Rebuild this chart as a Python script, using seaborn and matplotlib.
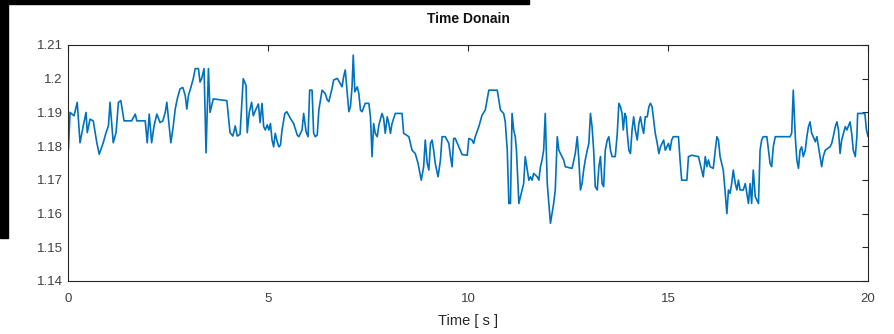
import numpy as np
import pandas as pd
import matplotlib
matplotlib.use("Agg")
import matplotlib.pyplot as plt
from matplotlib.patches import Rectangle
import seaborn as sns

# values (time in s, signal)
time_s = [
    0.01, 0.05, 0.15, 0.23, 0.30, 0.38, 0.45, 0.48, 0.55, 0.63, 0.72, 0.78, 0.88, 0.95,
    1.01, 1.05, 1.13, 1.20, 1.26, 1.32, 1.40, 1.59, 1.68, 1.72, 1.93, 1.98, 2.03, 2.09,
    2.15, 2.22, 2.30, 2.37, 2.43, 2.47, 2.57, 2.62, 2.68, 2.73, 2.80, 2.87, 2.93, 2.97,
    3.01, 3.07, 3.13, 3.18, 3.26, 3.30, 3.34, 3.40, 3.45, 3.51, 3.55, 3.63, 3.97, 4.05,
    4.12, 4.18, 4.23, 4.30, 4.38, 4.45, 4.48, 4.53, 4.59, 4.63, 4.70, 4.76, 4.80,
    4.85, 4.89, 4.93, 4.98, 5.02, 5.06, 5.10, 5.14, 5.18, 5.23, 5.27, 5.31, 5.35, 5.42,
    5.47, 5.56, 5.64, 5.73, 5.77, 5.85, 5.89, 5.95, 6.00, 6.04, 6.10, 6.14, 6.18, 6.23,
    6.27, 6.35, 6.43, 6.48, 6.52, 6.60, 6.64, 6.73, 6.78, 6.85, 6.89, 6.93, 6.98, 7.02,
    7.06, 7.10, 7.13, 7.17, 7.23, 7.27, 7.31, 7.35, 7.43, 7.52, 7.56, 7.60, 7.64, 7.68,
    7.73, 7.77, 7.85, 7.89, 7.93, 7.98, 8.02, 8.06, 8.10, 8.18, 8.35, 8.39, 8.52, 8.60,
    8.68, 8.75, 8.83, 8.89, 8.93, 8.98, 9.02, 9.06, 9.10, 9.14, 9.18, 9.25, 9.31, 9.35,
    9.43, 9.52, 9.56, 9.60, 9.64, 9.68, 9.77,
    9.85, 9.98, 10.02, 10.10, 10.14, 10.18, 10.27, 10.35, 10.43, 10.52, 10.73, 10.81,
    10.89, 10.93, 10.98, 11.02, 11.06, 11.10, 11.14, 11.18, 11.21, 11.27, 11.31, 11.35,
    11.39, 11.43, 11.48, 11.52, 11.56, 11.60, 11.64, 11.73, 11.77, 11.81, 11.85, 11.89,
    11.93, 11.98, 12.02, 12.06, 12.10, 12.14, 12.18, 12.23, 12.27, 12.31, 12.39, 12.43,
    12.60, 12.68, 12.73, 12.77, 12.81, 12.85, 12.89, 12.93, 12.98, 13.02, 13.06, 13.10,
    13.14, 13.18, 13.23, 13.27, 13.31, 13.35, 13.39, 13.43, 13.48, 13.52, 13.56, 13.60,
    13.68, 13.73, 13.77, 13.81, 13.85, 13.88, 13.92, 13.95, 13.98, 14.02, 14.06, 14.10,
    14.14, 14.18, 14.23, 14.27, 14.31, 14.35, 14.39, 14.43, 14.48, 14.52, 14.56, 14.60,
    14.64, 14.68, 14.73, 14.77, 14.81, 14.85, 14.89,
    14.93, 15.01, 15.05, 15.09, 15.13, 15.26, 15.30, 15.34, 15.47, 15.51, 15.59, 15.76,
    15.84, 15.88, 15.93, 15.97, 16.01, 16.05, 16.13, 16.18, 16.22, 16.26, 16.30, 16.34,
    16.38, 16.43, 16.47, 16.51, 16.55, 16.59, 16.63, 16.68, 16.72, 16.76, 16.80, 16.88,
    16.93, 16.97, 17.01, 17.05, 17.09, 17.13, 17.18, 17.26, 17.30, 17.34, 17.38, 17.47,
    17.51, 17.55, 17.59, 17.63, 17.68, 18.05, 18.09, 18.13, 18.18, 18.22, 18.26, 18.30,
    18.34, 18.38, 18.43, 18.47, 18.51, 18.55, 18.59, 18.63, 18.68, 18.72, 18.76, 18.80,
    18.84, 18.88, 18.93, 19.05, 19.09, 19.13, 19.18, 19.22, 19.26, 19.30, 19.34, 19.43,
    19.47, 19.55, 19.59, 19.63, 19.68, 19.72, 19.74, 19.92, 19.96, 20.00,
]
signal = [
    1.179, 1.190, 1.189, 1.193, 1.181, 1.186, 1.190, 1.184, 1.188, 1.1875, 1.181, 1.1776, 1.181, 1.184,
    1.186, 1.193, 1.181, 1.184, 1.193, 1.1935, 1.1875, 1.1875, 1.1895, 1.1875, 1.1875, 1.181, 1.1895, 1.181,
    1.186, 1.1895, 1.187, 1.1875, 1.190, 1.193, 1.181, 1.185, 1.191, 1.194, 1.197, 1.1974, 1.195, 1.191,
    1.195, 1.1974, 1.200, 1.203, 1.203, 1.199, 1.200, 1.203, 1.178, 1.203, 1.190, 1.194, 1.1935, 1.184,
    1.183, 1.186, 1.183, 1.1835, 1.200, 1.198, 1.184, 1.190, 1.193, 1.189, 1.191, 1.1925, 1.187,
    1.1927, 1.1858, 1.1848, 1.1863, 1.1848, 1.1867, 1.1818, 1.1798, 1.1838, 1.1813, 1.1798, 1.1803, 1.1848, 1.1897,
    1.1902, 1.1882, 1.1867, 1.1833, 1.1828, 1.1848, 1.1897, 1.1843, 1.1828, 1.1966, 1.1966, 1.1838, 1.1828, 1.1833,
    1.1907, 1.1966, 1.1956, 1.1937, 1.1932, 1.1971, 1.1996, 1.2001, 1.1991, 1.1976, 1.2006, 1.2026, 1.1956, 1.1902,
    1.1917, 1.1976, 1.2070, 1.1961, 1.1976, 1.1956, 1.1907, 1.1902, 1.1927, 1.1927, 1.1887, 1.1769, 1.1867, 1.1838,
    1.1828, 1.1863, 1.1897, 1.1882, 1.1838, 1.1887, 1.1867, 1.1838, 1.1867, 1.1897, 1.1897, 1.1838, 1.1828, 1.1788,
    1.1778, 1.1749, 1.1699, 1.1739, 1.1818, 1.1749, 1.1729, 1.1808, 1.1818, 1.1788, 1.1749, 1.1709, 1.1759, 1.1828,
    1.1828, 1.1808, 1.1769, 1.1739, 1.1823, 1.1823, 1.1798,
    1.1775, 1.1773, 1.1823, 1.1818, 1.1808, 1.1828, 1.1858, 1.1892, 1.1907, 1.1966, 1.1966, 1.1907,
    1.1897, 1.1872, 1.1788, 1.1630, 1.1630, 1.1897, 1.1848, 1.1828, 1.1788, 1.1630, 1.1650, 1.1670,
    1.1689, 1.1769, 1.1729, 1.1699, 1.1709, 1.1699, 1.1719, 1.1709, 1.1699, 1.1739, 1.1759, 1.1788,
    1.1897, 1.1689, 1.1630, 1.1571, 1.1600, 1.1630, 1.1670, 1.1828, 1.1788, 1.1778, 1.1759, 1.1739,
    1.1734, 1.1778, 1.1828, 1.1759, 1.1670, 1.1689, 1.1729, 1.1759, 1.1788, 1.1808, 1.1897, 1.1858,
    1.1788, 1.1680, 1.1670, 1.1739, 1.1769, 1.1689, 1.1680, 1.1788, 1.1818, 1.1828, 1.1788, 1.1769,
    1.1769, 1.1838, 1.1927, 1.1917, 1.1897, 1.1848, 1.1897, 1.1887, 1.1838, 1.1788, 1.1778, 1.1848,
    1.1887, 1.1848, 1.1818, 1.1867, 1.1887, 1.1858, 1.1838, 1.1887, 1.1887, 1.1917, 1.1927, 1.1917,
    1.1877, 1.1838, 1.1808, 1.1778, 1.1798, 1.1808, 1.1818,
    1.1788, 1.1808, 1.1788, 1.1818, 1.1828, 1.1828, 1.1759, 1.1699, 1.1699, 1.1769, 1.1773, 1.1769,
    1.1729, 1.1709, 1.1769, 1.1739, 1.1759, 1.1739, 1.1734, 1.1788, 1.1828, 1.1818, 1.1769, 1.1749,
    1.1729, 1.1660, 1.1600, 1.1670, 1.1660, 1.1689, 1.1729, 1.1689, 1.1670, 1.1699, 1.1670, 1.1670,
    1.1689, 1.1660, 1.1630, 1.1689, 1.1630, 1.1729, 1.1650, 1.1630, 1.1788, 1.1818, 1.1828, 1.1828,
    1.1788, 1.1749, 1.1739, 1.1798, 1.1828, 1.1828, 1.1838, 1.1966, 1.1828, 1.1759, 1.1734, 1.1788,
    1.1798, 1.1769, 1.1788, 1.1828, 1.1858, 1.1872, 1.1838, 1.1828, 1.1813, 1.1828, 1.1798, 1.1769,
    1.1739, 1.1769, 1.1788, 1.1798, 1.1808, 1.1828, 1.1858, 1.1872, 1.1848, 1.1778, 1.1818, 1.1858,
    1.1848, 1.1872, 1.1838, 1.1788, 1.1769, 1.1828, 1.1897, 1.1897, 1.1848, 1.1828,
]
x_ticks = [0, 5, 10, 15, 20]
y_ticks = [1.14, 1.15, 1.16, 1.17, 1.18, 1.19, 1.2, 1.21]
y_tick_labels = ["1.14", "1.15", "1.16", "1.17", "1.18", "1.19", "1.2", "1.21"]

df = pd.DataFrame({"t": time_s, "v": signal})

sns.set_style("white")
plt.rcParams["font.family"] = ["Liberation Sans", "DejaVu Sans"]

fig = plt.figure(figsize=(8.94, 3.34), dpi=100)
ax = fig.add_axes([0.0761, 0.1587, 0.8949, 0.7066])

sns.lineplot(data=df, x="t", y="v", ax=ax, color="#0072BD", linewidth=1.2,
             estimator=None, sort=False)

ax.set_xlim(0, 20)
ax.set_ylim(1.14, 1.21)
ax.set_xticks(x_ticks)
ax.set_yticks(y_ticks)
ax.set_yticklabels(y_tick_labels)
ax.tick_params(direction="in", length=4, width=0.8, top=True, right=True,
               labelsize=9.5, colors="#262626", labelcolor="#404040", pad=4)
ax.tick_params(axis="x", pad=9)
for s in ax.spines.values():
    s.set_color("#262626")
    s.set_linewidth(0.8)

ax.set_title("Time Donain", fontsize=10, fontweight="bold", color="#111111", pad=16)
ax.set_xlabel("Time [ s ]", fontsize=10.5, color="#262626", labelpad=6)
ax.set_ylabel("")

# dark screenshot borders seen in the reference
fig.add_artist(Rectangle((0, 0.988), 0.592, 0.012, transform=fig.transFigure,
                         color="black", zorder=10))
fig.add_artist(Rectangle((0, 0.287), 0.009, 0.713, transform=fig.transFigure,
                         color="black", zorder=10))

fig.savefig("out.png", dpi=100)
